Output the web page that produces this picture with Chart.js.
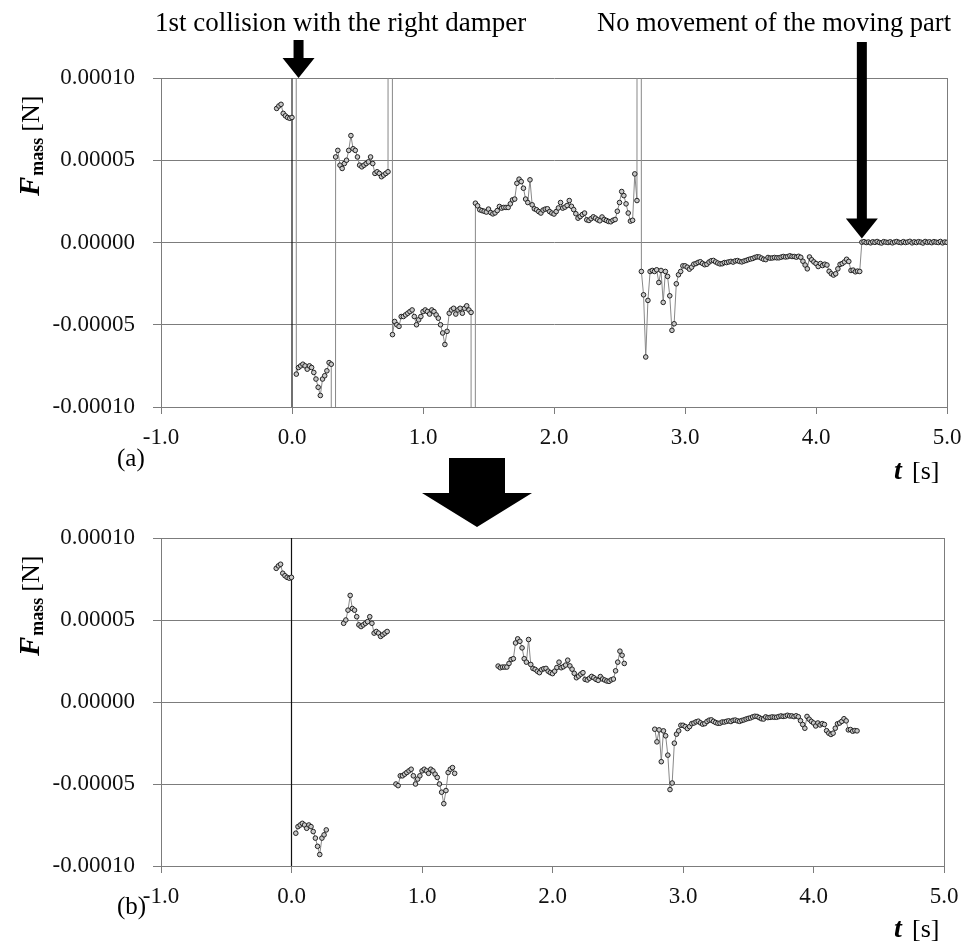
<!DOCTYPE html>
<html>
<head>
<meta charset="utf-8">
<script src="https://cdn.jsdelivr.net/npm/chart.js@4.4.1/dist/chart.umd.min.js"></script>
<style>
  html, body { margin: 0; padding: 0; background: #fff; }
  #wrap { position: relative; width: 967px; height: 944px; overflow: hidden; }
  .panel { position: absolute; left: 0; top: 0; width: 967px; height: 944px; }
</style>
</head>
<body>
<div id="wrap">
  <div class="panel"><canvas id="chartA"></canvas></div>
  <div class="panel"><canvas id="chartB"></canvas></div>
</div>
<script>
// F_mass in units of 1e-5 N, one value per video frame (1/60 s)
const sampleStep = 1 / 60;

// start time [s] of each stroke between collisions
const segmentStart = [-0.117, 0.033, 0.333, 0.767, 1.4, 2.667, 4.35];

const stroke1 = [8.15, 8.3, 8.4, 7.85, 7.7, 7.6, 7.55, 7.6];
const stroke2 = [-8.0, -7.6, -7.5, -7.4, -7.5, -7.7, -7.5, -7.6, -7.9, -8.3, -8.8, -9.3, -8.3, -8.1, -7.8, -7.3, -7.4];
const stroke3 = [5.2, 5.6, 4.7, 4.5, 4.8, 5.0, 5.6, 6.5, 5.7, 5.6, 5.2, 4.7, 4.6, 4.7, 4.8, 4.9, 5.2, 4.8, 4.2, 4.3,
                 4.2, 4.0, 4.1, 4.2, 4.3];
const stroke4 = [-5.6, -4.8, -5.0, -5.1, -4.5, -4.5, -4.4, -4.3, -4.2, -4.1, -4.5, -5.0, -4.7, -4.5, -4.2, -4.1, -4.2, -4.35, -4.1, -4.2,
                 -4.4, -4.6, -5.0, -5.5, -6.2, -5.4, -4.3, -4.1, -4.0, -4.35, -4.1, -4.0, -4.3, -4.0, -3.85, -4.1, -4.25];
const stroke5 = [2.39, 2.23, 1.99, 1.94, 1.9, 1.85, 2.03, 1.82, 1.74, 1.8, 1.94, 2.19, 2.09, 2.13, 2.13, 2.13, 2.35, 2.59, 2.64, 3.6,
                 3.85, 3.7, 3.3, 2.64, 2.43, 3.81, 2.29, 2.05, 1.99, 1.88, 1.79, 1.97, 2.03, 2.05, 1.88, 1.79, 1.73, 1.88, 2.1, 2.43,
                 2.09, 2.15, 2.25, 2.55, 2.2, 2.0, 1.75, 1.48, 1.58, 1.7, 1.79, 1.38, 1.34, 1.45, 1.56, 1.48, 1.38, 1.32, 1.55, 1.4,
                 1.34, 1.28, 1.26, 1.35, 1.4, 1.9, 2.43, 3.1, 2.85, 2.35, 1.79, 1.3, 1.35, 4.17, 2.55];
const stroke6 = [-1.76, -3.18, -6.96, -3.52, -1.76, -1.70, -1.76, -1.66, -2.43, -1.70, -3.64, -1.76, -2.06, -3.24, -5.34, -4.94, -2.51, -1.96, -1.76, -1.42,
                 -1.42, -1.50, -1.62, -1.50, -1.32, -1.28, -1.21, -1.17, -1.27, -1.35, -1.32, -1.19, -1.11, -1.09, -1.18, -1.25, -1.30, -1.29, -1.22, -1.22,
                 -1.18, -1.15, -1.19, -1.12, -1.10, -1.15, -1.18, -1.13, -1.09, -1.04, -1.00, -0.97, -0.91, -0.87, -0.88, -0.95, -1.02, -1.04, -0.91, -0.95,
                 -0.94, -0.91, -0.93, -0.93, -0.89, -0.85, -0.88, -0.86, -0.81, -0.85, -0.85, -0.89, -0.84, -0.90, -1.14, -1.37, -1.60, -0.88, -1.05, -1.18,
                 -1.28, -1.46, -1.28, -1.40, -1.32, -1.37, -1.75, -1.90, -1.98, -1.90, -1.60, -1.33, -1.28, -1.18, -1.02, -1.15, -1.70, -1.68, -1.78, -1.74,
                 -1.76];
const restPhase = [0.02, 0.05, 0.0, 0.03, -0.02, 0.04, 0.01, 0.06, 0.0, -0.03, 0.05, 0.02, 0.0, 0.04, -0.02, 0.03, 0.06, 0.01, -0.01, 0.05,
                   0.0, 0.03, 0.07, -0.02, 0.04, 0.0, 0.05, 0.02, -0.03, 0.06, 0.01, 0.04, -0.01, 0.05, 0.02, 0.0, 0.06, -0.02, 0.03, 0.01];

// single-frame force peaks at the damper collisions (far off scale)
const spikeTime = [0.017, 0.317, 0.75, 1.383, 2.65];
const spikeForce = [400, -400, 400, -400, 400];

// time windows kept after removing the collision frames, per stroke
const keptWindow = [[-0.12, 0.005], [0.03, 0.27], [0.39, 0.74], [0.79, 1.26], [1.575, 2.555], [2.775, 4.34], null];

const collisionTime = 0.05;   // first hit on the right damper
const stopTime = 4.35;        // moving part stops

const xTicks = [-1, 0, 1, 2, 3, 4, 5];
const yTicks = [-10, -5, 0, 5, 10];

const strokes = [stroke1, stroke2, stroke3, stroke4, stroke5, stroke6, restPhase];

function strokePoints(k) {
    return strokes[k].map((f, i) => ({ x: segmentStart[k] + i * sampleStep, y: f }));
}

// (a) raw series, collisions included
const rawSeries = [];
strokes.forEach((s, k) => {
    rawSeries.push(...strokePoints(k));
    if (k < spikeTime.length) rawSeries.push({ x: spikeTime[k], y: spikeForce[k] });
});

// (b) trimmed series, strokes kept apart
const trimmedSeries = [];
strokes.forEach((s, k) => {
    const win = keptWindow[k];
    if (!win) return;
    if (trimmedSeries.length) trimmedSeries.push({ x: win[0], y: null });
    strokePoints(k).filter(p => p.x >= win[0] && p.x <= win[1]).forEach(p => trimmedSeries.push(p));
});

const GRID = '#7c7c7c';
const SERIF = '"Liberation Serif", "Times New Roman", serif';

function drawArrow(ctx, x, tipY, topY, shaftW, headW, headH) {
    ctx.beginPath();
    ctx.moveTo(x - shaftW / 2, topY);
    ctx.lineTo(x + shaftW / 2, topY);
    ctx.lineTo(x + shaftW / 2, tipY - headH);
    ctx.lineTo(x + headW / 2, tipY - headH);
    ctx.lineTo(x, tipY);
    ctx.lineTo(x - headW / 2, tipY - headH);
    ctx.lineTo(x - shaftW / 2, tipY - headH);
    ctx.closePath();
    ctx.fill();
}

// mixed-style axis titles and panel letter
function drawTitles(chart, letter, letterY, unitY) {
    const ctx = chart.ctx;
    const area = chart.chartArea;
    ctx.save();
    ctx.fillStyle = '#000';
    ctx.textBaseline = 'alphabetic';

    // F_mass [N], rotated
    ctx.save();
    ctx.translate(39, area.top + 118);
    ctx.rotate(-Math.PI / 2);
    ctx.font = 'italic bold 29px ' + SERIF;
    ctx.fillText('F', 0, 0);
    let w = ctx.measureText('F').width;
    ctx.font = 'bold 18px ' + SERIF;
    ctx.fillText('mass', w + 1, 4);
    w += ctx.measureText('mass').width + 7;
    ctx.font = '26px ' + SERIF;
    ctx.fillText('[N]', w, 0);
    ctx.restore();

    // t [s]
    ctx.font = 'italic bold 28px ' + SERIF;
    ctx.fillText('t', 894, unitY);
    ctx.font = '26px ' + SERIF;
    ctx.fillText('[s]', 912, unitY);

    // panel letter
    ctx.font = '25px ' + SERIF;
    ctx.fillText(letter, 117, letterY);
    ctx.restore();
}

const zeroTimeLine = {
    id: 'zeroTimeLine',
    beforeDatasetsDraw(chart) {
        const ctx = chart.ctx;
        const x = chart.scales.x.getPixelForValue(0);
        ctx.save();
        ctx.strokeStyle = '#111';
        ctx.lineWidth = 1.2;
        ctx.beginPath();
        ctx.moveTo(x, chart.chartArea.top);
        ctx.lineTo(x, chart.chartArea.bottom);
        ctx.stroke();
        ctx.restore();
    }
};

const decorA = {
    id: 'decorA',
    afterDraw(chart) {
        const ctx = chart.ctx;
        const area = chart.chartArea;
        const xs = chart.scales.x, ys = chart.scales.y;
        drawTitles(chart, '(a)', 466, 479);
        ctx.save();
        ctx.fillStyle = '#000';
        ctx.font = '27px ' + SERIF;
        ctx.textBaseline = 'alphabetic';
        ctx.fillText('1st collision with the right damper', 155, 31);
        ctx.font = '26.5px ' + SERIF;
        ctx.fillText('No movement of the moving part', 597, 31);
        drawArrow(ctx, xs.getPixelForValue(collisionTime), area.top, 40, 10, 32, 20);
        drawArrow(ctx, xs.getPixelForValue(stopTime), ys.getPixelForValue(0) - 4, 42, 10, 32, 20);
        // block arrow leading to panel (b)
        drawArrow(ctx, 477, 527, 458, 56, 110, 34);
        ctx.restore();
    }
};

const decorB = {
    id: 'decorB',
    afterDraw(chart) { drawTitles(chart, '(b)', 914, 937); }
};

function makeChart(id, series, pad, plugins) {
    return new Chart(document.getElementById(id), {
        type: 'line',
        data: {
            datasets: [{
                data: series,
                borderColor: '#888',
                borderWidth: 1,
                pointRadius: 2.3,
                pointBorderWidth: 1,
                pointBorderColor: '#222',
                pointBackgroundColor: '#c8c8c8',
                tension: 0,
                spanGaps: false
            }]
        },
        options: {
            responsive: true,
            maintainAspectRatio: false,
            animation: false,
            events: [],
            layout: { padding: pad },
            plugins: { legend: { display: false }, tooltip: { enabled: false } },
            scales: {
                x: {
                    type: 'linear',
                    min: xTicks[0],
                    max: xTicks[xTicks.length - 1],
                    afterBuildTicks: s => { s.ticks = xTicks.map(v => ({ value: v })); },
                    // fixed axis band; end labels may overhang the plot edges
                    afterFit: s => { s.height = 40; s.paddingLeft = 0; s.paddingRight = 0; },
                    ticks: {
                        callback: v => v.toFixed(1),
                        font: { family: SERIF, size: 23 },
                        color: '#111',
                        padding: 10,
                        maxRotation: 0
                    },
                    grid: {
                        color: c => (c.tick && c.tick.value === 5 ? GRID : 'rgba(0,0,0,0)'),
                        tickColor: GRID,
                        tickLength: 7,
                        lineWidth: 1
                    },
                    border: { color: GRID, width: 1 }
                },
                y: {
                    min: yTicks[0],
                    max: yTicks[yTicks.length - 1],
                    afterBuildTicks: s => { s.ticks = yTicks.map(v => ({ value: v })); },
                    afterFit: s => { s.width = 161; s.paddingTop = 0; s.paddingBottom = 0; },
                    ticks: {
                        callback: v => (Math.abs(v) < 1e-9 ? 0 : v / 1e5).toFixed(5),
                        font: { family: SERIF, size: 23 },
                        color: '#111',
                        padding: 18
                    },
                    grid: { color: GRID, tickLength: 8, lineWidth: 1 },
                    border: { color: GRID, width: 1 }
                }
            }
        },
        plugins: plugins
    });
}

makeChart('chartA', rawSeries, { left: 0, right: 20, top: 78, bottom: 497 }, [zeroTimeLine, decorA]);
makeChart('chartB', trimmedSeries, { left: 0, right: 23, top: 538, bottom: 38 }, [zeroTimeLine, decorB]);
</script>
</body>
</html>
